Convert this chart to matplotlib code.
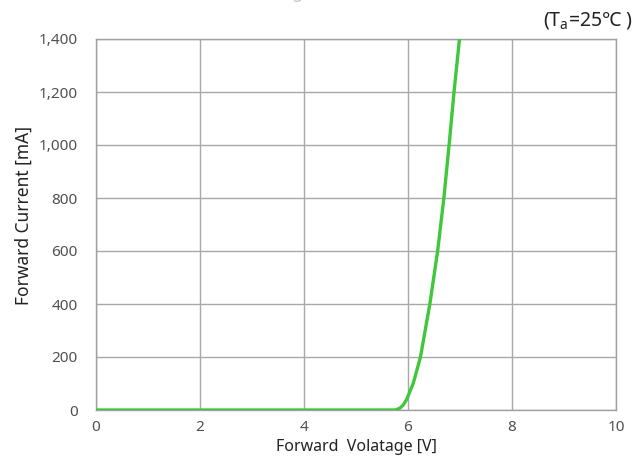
import matplotlib
matplotlib.use("Agg")
import matplotlib.pyplot as plt

plt.rcParams['font.family'] = ['Noto Sans', 'Noto Sans CJK KR', 'DejaVu Sans']
plt.rcParams['mathtext.fontset'] = 'custom'
plt.rcParams['mathtext.rm'] = 'Noto Sans'

# forward voltage [V] vs forward current [mA]
voltage = [0.0, 5.6, 5.75, 5.8, 5.85, 5.9, 5.97, 6.1, 6.24, 6.42, 6.57, 6.69, 6.79, 6.885, 6.99]
current = [0, 0, 0, 3, 8, 17, 38, 100, 200, 400, 600, 800, 1000, 1200, 1400]

x_ticks = [0, 2, 4, 6, 8, 10]
y_ticks = [0, 200, 400, 600, 800, 1000, 1200, 1400]
y_tick_labels = ['0', '200', '400', '600', '800', '1,000', '1,200', '1,400']

fig = plt.figure(figsize=(6.39, 4.67), dpi=100)
ax = fig.add_axes([96 / 639, 57 / 467, 520 / 639, 371 / 467])

ax.plot(voltage, current, color='#3ec83a', linewidth=2.4, solid_capstyle='butt', zorder=3)

ax.set_xlim(0, 10)
ax.set_ylim(0, 1400)
ax.set_xticks(x_ticks)
ax.set_yticks(y_ticks)
ax.set_yticklabels(y_tick_labels)
ax.grid(True, color='#a8a8a8', linewidth=1.0)
ax.tick_params(length=0, labelsize=11, labelcolor='#505050')
ax.tick_params(axis='y', pad=13)
ax.tick_params(axis='x', pad=7)
for s in ax.spines.values():
    s.set_color('#a0a0a0')
    s.set_linewidth(1.0)

ax.set_xlabel('Forward  Volatage [V]', fontsize=11.5, color='#222222', labelpad=3)
ax.set_ylabel('Forward Current [mA]', fontsize=12.5, color='#222222')
ax.yaxis.set_label_coords(-0.121, 0.525)

fig.text(0.99, 0.957, '(T$_\\mathregular{a}$=25℃ )', ha='right', va='center',
         fontsize=14, color='#222222')
fig.text(0.0, 1.014, 'Forward Current vs. Forward Voltage', ha='left', va='center',
         fontsize=13, fontweight='bold', color='#c8c8c8')

fig.savefig('out.png', dpi=100)
